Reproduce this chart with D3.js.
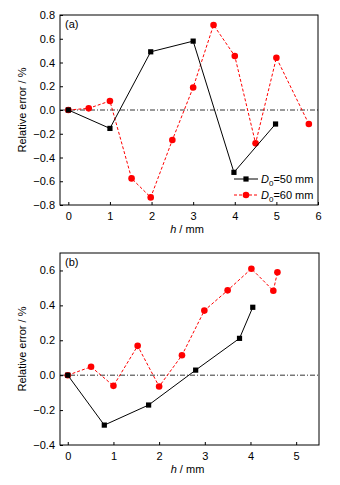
<!DOCTYPE html>
<html lang="en">
<head>
    <meta charset="UTF-8">
    <title>Relative error vs h</title>
    <style>
        body { margin: 0; background: #fff; }
        svg { font-family: "Liberation Sans", Arial, sans-serif; font-size: 11px; }
        .frame { fill: none; stroke: #000; stroke-width: 1px; }
        .zero { stroke: #000; stroke-width: 0.8px; stroke-dasharray: 5,2,1,2; }
    </style>
</head>
<body>
    <script src="https://d3js.org/d3.v7.min.js"></script>
    <script>
        // panel (a) data
        let hA50 = [0, 1, 1.98, 3, 3.98, 4.98];
        let eA50 = [0, -0.155, 0.49, 0.58, -0.525, -0.118];
        let hA60 = [0, 0.49, 1.0, 1.52, 1.98, 2.5, 3.0, 3.49, 4.0, 4.5, 5.0, 5.78];
        let eA60 = [0, 0.014, 0.076, -0.576, -0.736, -0.253, 0.19, 0.716, 0.455, -0.281, 0.44, -0.118];

        // panel (b) data
        let hB50 = [0, 0.8, 1.77, 2.8, 3.76, 4.05];
        let eB50 = [0, -0.286, -0.171, 0.029, 0.211, 0.389];
        let hB60 = [0, 0.51, 1.0, 1.53, 2.0, 2.5, 2.99, 3.5, 4.02, 4.5, 4.59];
        let eB60 = [0, 0.048, -0.061, 0.168, -0.065, 0.114, 0.37, 0.486, 0.61, 0.484, 0.589];

        let xTicksA = [0, 1, 2, 3, 4, 5, 6];
        let yTicksA = [-0.8, -0.6, -0.4, -0.2, 0.0, 0.2, 0.4, 0.6, 0.8];
        let xTicksB = [0, 1, 2, 3, 4, 5];
        let yTicksB = [-0.4, -0.2, 0.0, 0.2, 0.4, 0.6];

        let s = d3.select('body').append('svg')
            .attr('width', 340)
            .attr('height', 485);

        let zip = (xs, ys) => xs.map((x, i) => ({ x: x, y: ys[i] }));

        function panel(o) {
            let x = d3.scaleLinear().domain(o.xd).range([o.l, o.r]);
            let y = d3.scaleLinear().domain(o.yd).range([o.b, o.t]);
            let g = s.append('g');

            // zero line
            g.append('line').attr('class', 'zero')
                .attr('x1', o.l).attr('x2', o.r)
                .attr('y1', y(0)).attr('y2', y(0));

            // axes, ticks pointing inward
            g.append('g')
                .attr('transform', `translate(0,${o.b})`)
                .call(d3.axisBottom(x).tickValues(o.xt).tickSizeInner(-3).tickSizeOuter(0).tickPadding(7).tickFormat(d3.format('d')))
                .call(a => a.select('.domain').remove())
                .call(a => a.selectAll('text').attr('font-size', 11).attr('font-family', null).attr('fill', '#000'));
            g.append('g')
                .attr('transform', `translate(${o.l},0)`)
                .call(d3.axisLeft(y).tickValues(o.yt).tickSizeInner(-3).tickSizeOuter(0).tickPadding(5).tickFormat(d3.format('.1f')))
                .call(a => a.select('.domain').remove())
                .call(a => a.selectAll('text').attr('font-size', 11).attr('font-family', null).attr('fill', '#000'));

            g.append('rect').attr('class', 'frame')
                .attr('x', o.l).attr('y', o.t)
                .attr('width', o.r - o.l).attr('height', o.b - o.t);

            let line = d3.line().x(d => x(d.x)).y(d => y(d.y));

            // D0 = 60 mm (red dashed, circles)
            g.append('path').datum(o.red)
                .attr('d', line).attr('fill', 'none')
                .attr('stroke', '#ff0000').attr('stroke-width', 1).attr('stroke-dasharray', '3,2');
            g.selectAll('.rc').data(o.red).enter().append('circle')
                .attr('cx', d => x(d.x)).attr('cy', d => y(d.y)).attr('r', 3.3)
                .attr('fill', '#ff0000');

            // D0 = 50 mm (black solid, squares)
            g.append('path').datum(o.blk)
                .attr('d', line).attr('fill', 'none')
                .attr('stroke', '#000').attr('stroke-width', 1);
            g.selectAll('.bs').data(o.blk).enter().append('rect')
                .attr('x', d => x(d.x) - 2.6).attr('y', d => y(d.y) - 2.6)
                .attr('width', 5.2).attr('height', 5.2).attr('fill', '#000');

            g.append('text').attr('x', o.l + 5).attr('y', o.t + 13).text(o.tag);

            g.append('text')
                .attr('transform', `translate(26,${(o.t + o.b) / 2}) rotate(-90)`)
                .attr('text-anchor', 'middle')
                .text('Relative error / %');

            let xl = g.append('text')
                .attr('x', (o.l + o.r) / 2 - 2).attr('y', o.b + 28)
                .attr('text-anchor', 'middle');
            xl.append('tspan').attr('font-style', 'italic').text('h');
            xl.append('tspan').text(' / mm');

            return { x, y, g };
        }

        let pa = panel({
            l: 60, r: 318, t: 15, b: 205,
            xd: [-0.2, 6], yd: [-0.8, 0.8],
            xt: xTicksA, yt: yTicksA,
            blk: zip(hA50, eA50), red: zip(hA60, eA60), tag: '(a)'
        });

        panel({
            l: 60, r: 319, t: 253, b: 445,
            xd: [-0.17, 5.5], yd: [-0.4, 0.7],
            xt: xTicksB, yt: yTicksB,
            blk: zip(hB50, eB50), red: zip(hB60, eB60), tag: '(b)'
        });

        // legend in panel (a)
        let leg = [
            { lbl: '=50 mm', c: '#000', dash: null, sq: true, y: 179 },
            { lbl: '=60 mm', c: '#ff0000', dash: '3,2', sq: false, y: 195 }
        ];
        let lg = pa.g.selectAll('.leg').data(leg).enter().append('g')
            .attr('transform', d => `translate(234,${d.y})`);
        lg.append('line').attr('x1', 0).attr('x2', 24)
            .attr('stroke', d => d.c).attr('stroke-width', 1)
            .attr('stroke-dasharray', d => d.dash);
        lg.filter(d => d.sq).append('rect')
            .attr('x', 9.4).attr('y', -2.6).attr('width', 5.2).attr('height', 5.2).attr('fill', '#000');
        lg.filter(d => !d.sq).append('circle')
            .attr('cx', 12).attr('cy', 0).attr('r', 3.3).attr('fill', '#ff0000');
        let lt = lg.append('text').attr('x', 27).attr('y', 4);
        lt.append('tspan').attr('font-style', 'italic').text('D');
        lt.append('tspan').attr('font-size', 8).attr('dy', 3).text('0');
        lt.append('tspan').attr('dy', -3).text(d => d.lbl);
    </script>
</body>
</html>
